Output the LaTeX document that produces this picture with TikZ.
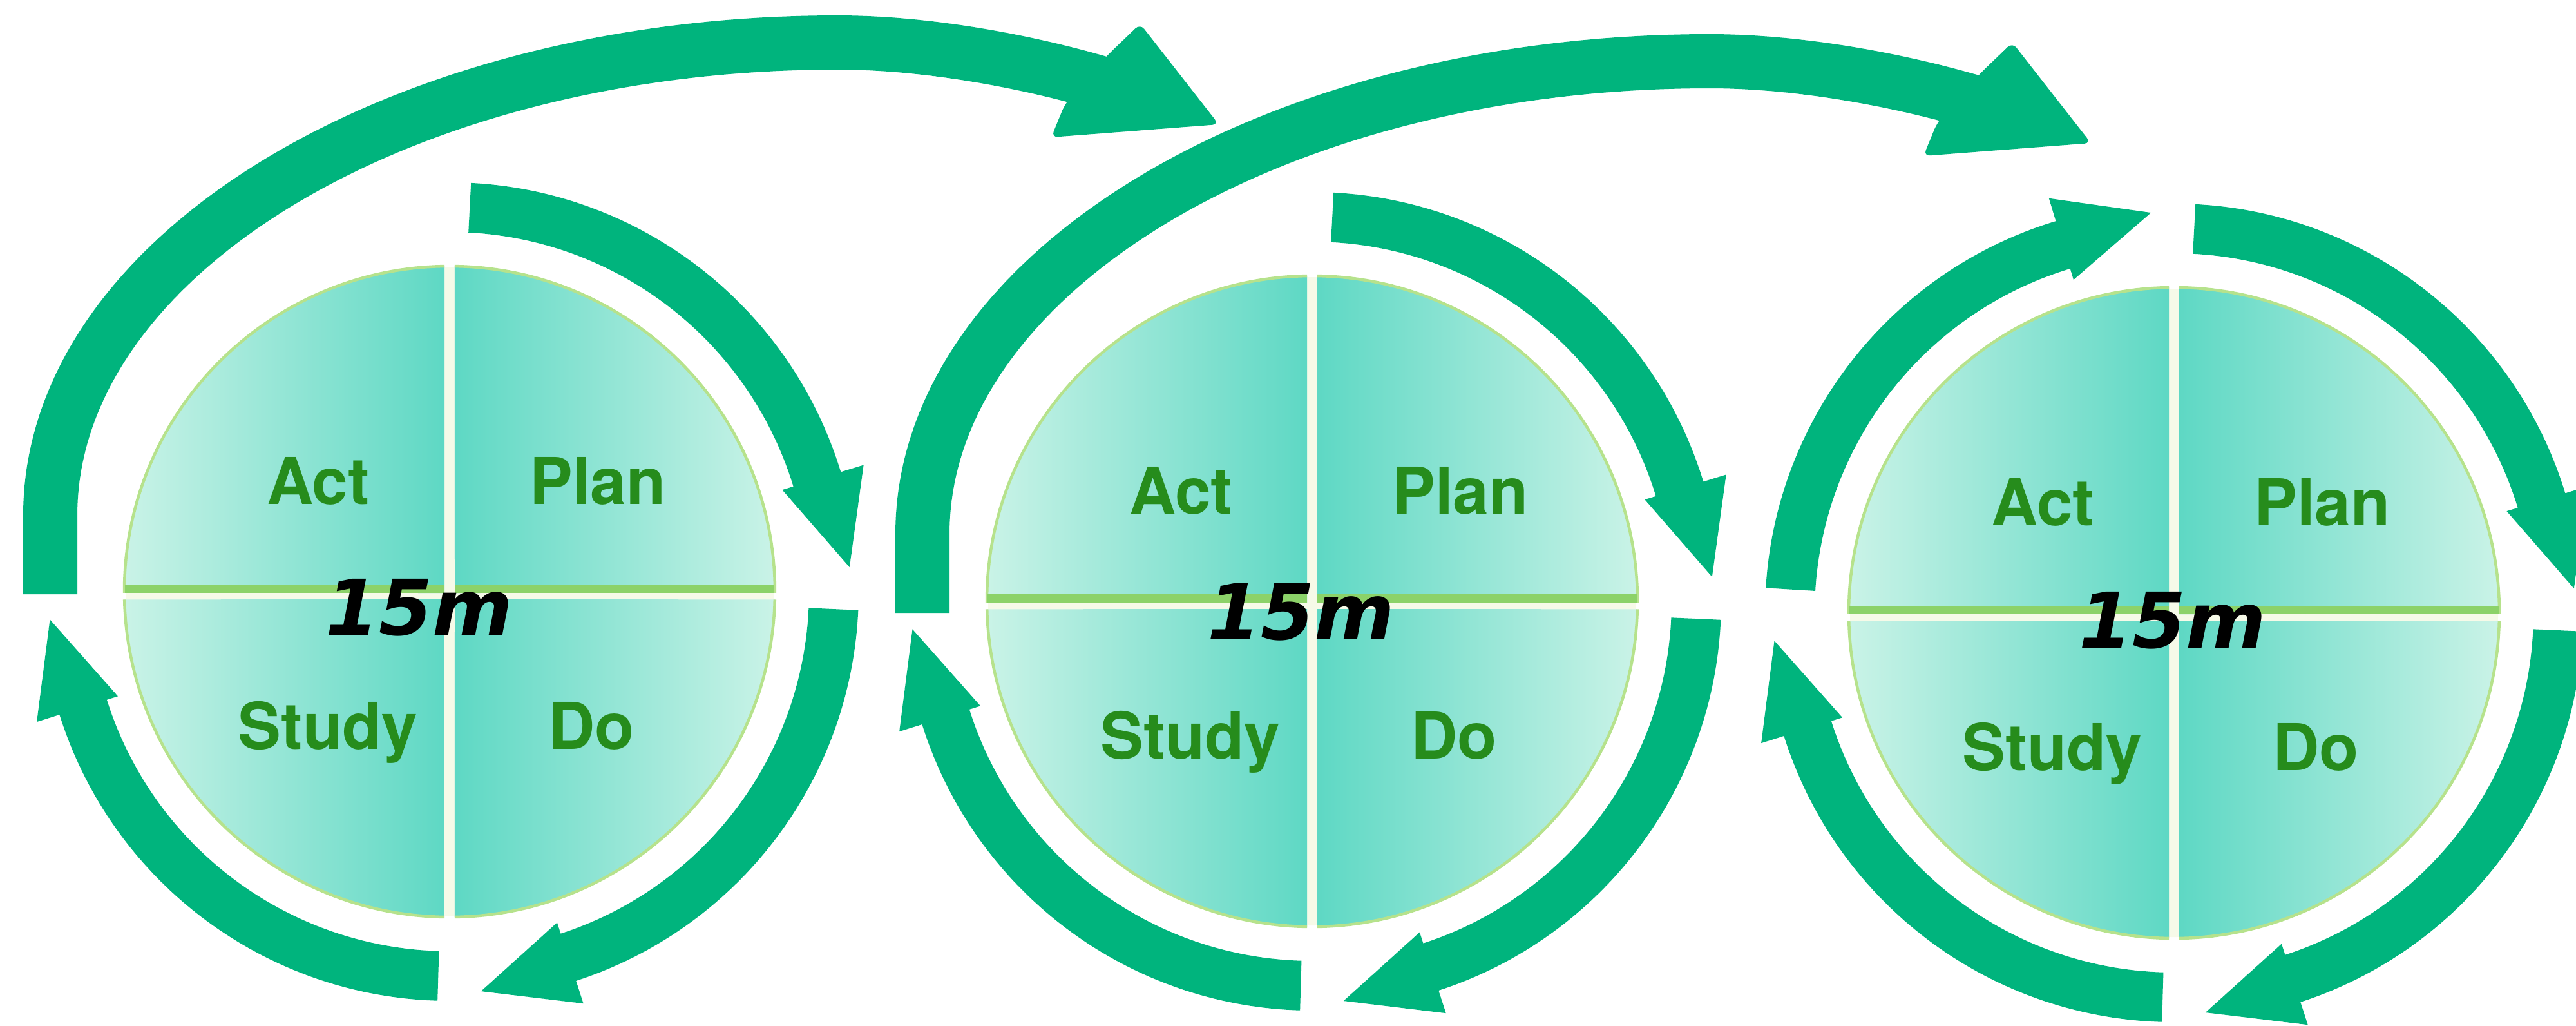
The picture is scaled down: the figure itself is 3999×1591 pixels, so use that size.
\documentclass[tikz,border=0pt]{standalone}
\usepackage{fontspec}
\setmainfont{TeX Gyre Heros}
\newfontfamily\handfont{DejaVu Sans}
\usetikzlibrary{calc}
\definecolor{arrowgreen}{RGB}{0,180,125}
\definecolor{pielight}{RGB}{202,243,231}
\definecolor{piedark}{RGB}{94,216,196}
\definecolor{pieedge}{RGB}{182,226,140}
\definecolor{divgreen}{RGB}{140,210,105}
\definecolor{labelgreen}{RGB}{38,140,28}
\definecolor{gapcream}{RGB}{246,250,232}

% ring arrow: center, start angle, head-base angle (screen angles, clockwise increasing)
\newcommand{\ringarrow}[3]{%
  \fill[arrowgreen] ($(#1)+(#2:635)$) arc[start angle=#2, end angle=#3, radius=635]
    -- ($(#1)+(#3:672)$) -- ($(#1)+({#3+13.5}:622)$) -- ($(#1)+(#3:540)$)
    -- ($(#1)+(#3:558)$) arc[start angle=#3, end angle=#2, radius=558] -- cycle;
}
% PDSA pie: index, handwriting dx, dy
\newcommand{\pdsapie}[3]{%
  \fill[gapcream] (p#1) circle (503);
  \shade[left color=pielight, right color=piedark] ($(p#1)+(-8,2)$) -- ($(p#1)+(179.8:505)$) arc[start angle=179.8, end angle=269.1, radius=505] -- cycle;
  \shade[left color=piedark, right color=pielight] ($(p#1)+(8,2)$) -- ($(p#1)+(0.2:505)$) arc[start angle=0.2, end angle=-89.1, radius=505] -- cycle;
  \shade[left color=pielight, right color=piedark] ($(p#1)+(-8,12)$) -- ($(p#1)+(178.6:505)$) arc[start angle=178.6, end angle=90.9, radius=505] -- cycle;
  \shade[left color=piedark, right color=pielight] ($(p#1)+(8,12)$) -- ($(p#1)+(1.4:505)$) arc[start angle=1.4, end angle=89.1, radius=505] -- cycle;
  \draw[pieedge, line width=0.45mm] ($(p#1)+(179.8:505)$) arc[start angle=179.8, end angle=269.1, radius=505];
  \draw[pieedge, line width=0.45mm] ($(p#1)+(0.2:505)$) arc[start angle=0.2, end angle=-89.1, radius=505];
  \draw[pieedge, line width=0.45mm] ($(p#1)+(178.6:505)$) arc[start angle=178.6, end angle=90.9, radius=505];
  \draw[pieedge, line width=0.45mm] ($(p#1)+(1.4:505)$) arc[start angle=1.4, end angle=89.1, radius=505];
  \draw[divgreen, line width=1.3mm] ($(p#1)+(-504,-4.5)$) -- ($(p#1)+(-8,-4.5)$);
  \draw[divgreen, line width=1.3mm] ($(p#1)+(8,-4.5)$) -- ($(p#1)+(504,-4.5)$);
  \node[lbl] (act#1)   at ($(p#1)+(-204,-136)$) {Act};
  \node[lbl] (plan#1)  at ($(p#1)+(230,-136)$) {Plan};
  \node[lbl] (study#1) at ($(p#1)+(-189,244)$) {Study};
  \node[lbl] (do#1)    at ($(p#1)+(220,244)$) {Do};
  \node[hand] (time#1) at ($(p#1)+(#2,#3)$) {15m};
}

\begin{document}
\begin{tikzpicture}[x=0.1mm, y=-0.1mm,
  lbl/.style={text=labelgreen, font=\fontsize{28.5}{30}\selectfont\bfseries, inner sep=0, anchor=base},
  hand/.style={text=black, font=\handfont\fontsize{34}{36}\selectfont\bfseries\itshape, inner sep=0, anchor=base},
  bigarc/.style={draw=arrowgreen, line width=8.4mm},
  bighead/.style={fill=arrowgreen, rounded corners=1mm}]
\useasboundingbox (0,0) rectangle (3999,1591);
\clip (0,0) rectangle (3999,1591);

\coordinate (p1) at (698,918);
\coordinate (p2) at (2037,933);
\coordinate (p3) at (3375,951);

\pdsapie{1}{-47}{67}
\pdsapie{2}{-17}{59}
\pdsapie{3}{-2}{54}

% ring arrows
\foreach \c in {p1,p2,p3}{
  \ringarrow{\c}{-87}{-17}
  \ringarrow{\c}{2.6}{72}
  \ringarrow{\c}{91.7}{162.5}
}
\ringarrow{p3}{183.5}{253.2}

% big arcs from one cycle to the next
\foreach \i/\sx/\sy in {1/0/0, 2/1354/29}{
  \begin{scope}[shift={(\sx,\sy)}]
    \coordinate (arcstart\i) at (78,922);
    \coordinate (arcend\i) at (1745,140);
    \draw[bigarc] (arcstart\i) -- (78,800)
      arc[start angle=180, end angle=270, x radius=1222, y radius=734]
      .. controls (1450,66) and (1620,100) .. (arcend\i);
    \fill[bighead] (1720,85) -- (1770,37) -- (1892,193) -- (1632,213) -- (1653,162) -- cycle;
  \end{scope}
}
\end{tikzpicture}
\end{document}
